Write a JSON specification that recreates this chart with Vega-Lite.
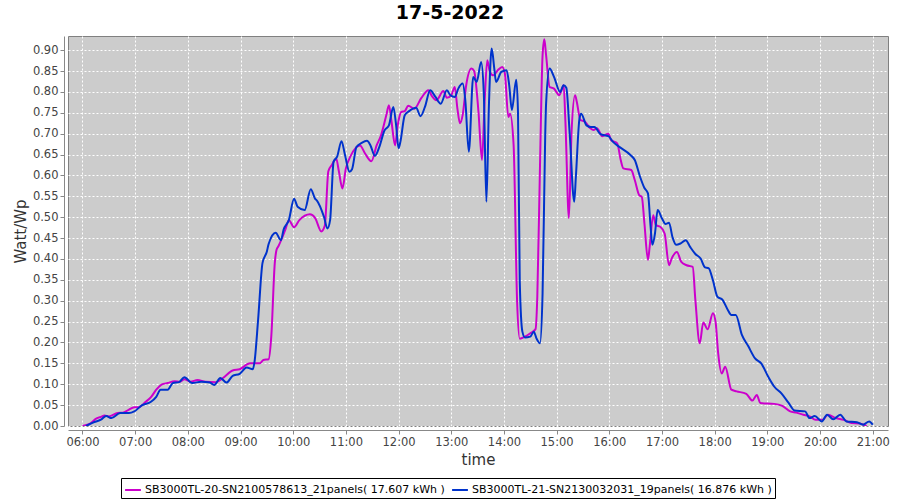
{
  "$schema": "https://vega.github.io/schema/vega-lite/v6.json",
  "autosize": {"type": "none"},
  "width": 820,
  "height": 390,
  "padding": {"left": 68, "top": 36, "right": 12, "bottom": 74},
  "background": "white",
  "title": {"text": "17-5-2022", "fontSize": 19, "fontWeight": "bold", "font": "DejaVu Sans", "color": "black", "anchor": "middle", "frame": "group", "dx": -28, "offset": 13},
  "config": {"view": {"fill": "#cccccc", "stroke": "#808080", "strokeWidth": 1}, "font": "DejaVu Sans"},
  "data": {"values": [
    {"t":"2022-05-17T06:00","s":"A","v":0.000},{"t":"2022-05-17T06:08","s":"A","v":0.005},{"t":"2022-05-17T06:16","s":"A","v":0.018},{"t":"2022-05-17T06:21","s":"A","v":0.022},{"t":"2022-05-17T06:25","s":"A","v":0.025},{"t":"2022-05-17T06:30","s":"A","v":0.023},{"t":"2022-05-17T06:40","s":"A","v":0.031},{"t":"2022-05-17T06:46","s":"A","v":0.032},{"t":"2022-05-17T06:52","s":"A","v":0.038},{"t":"2022-05-17T06:59","s":"A","v":0.045},{"t":"2022-05-17T07:04","s":"A","v":0.045},{"t":"2022-05-17T07:12","s":"A","v":0.058},{"t":"2022-05-17T07:18","s":"A","v":0.069},{"t":"2022-05-17T07:24","s":"A","v":0.087},{"t":"2022-05-17T07:30","s":"A","v":0.099},{"t":"2022-05-17T07:37","s":"A","v":0.103},{"t":"2022-05-17T07:45","s":"A","v":0.107},{"t":"2022-05-17T07:51","s":"A","v":0.106},{"t":"2022-05-17T07:56","s":"A","v":0.112},{"t":"2022-05-17T08:03","s":"A","v":0.106},{"t":"2022-05-17T08:11","s":"A","v":0.110},{"t":"2022-05-17T08:20","s":"A","v":0.106},{"t":"2022-05-17T08:32","s":"A","v":0.105},{"t":"2022-05-17T08:40","s":"A","v":0.115},{"t":"2022-05-17T08:51","s":"A","v":0.133},{"t":"2022-05-17T08:59","s":"A","v":0.136},{"t":"2022-05-17T09:11","s":"A","v":0.150},{"t":"2022-05-17T09:22","s":"A","v":0.150},{"t":"2022-05-17T09:26","s":"A","v":0.158},{"t":"2022-05-17T09:32","s":"A","v":0.160},{"t":"2022-05-17T09:35","s":"A","v":0.214},{"t":"2022-05-17T09:39","s":"A","v":0.390},{"t":"2022-05-17T09:41","s":"A","v":0.422},{"t":"2022-05-17T09:43","s":"A","v":0.430},{"t":"2022-05-17T09:51","s":"A","v":0.470},{"t":"2022-05-17T09:55","s":"A","v":0.493},{"t":"2022-05-17T10:01","s":"A","v":0.476},{"t":"2022-05-17T10:07","s":"A","v":0.493},{"t":"2022-05-17T10:19","s":"A","v":0.507},{"t":"2022-05-17T10:25","s":"A","v":0.498},{"t":"2022-05-17T10:32","s":"A","v":0.466},{"t":"2022-05-17T10:36","s":"A","v":0.480},{"t":"2022-05-17T10:40","s":"A","v":0.610},{"t":"2022-05-17T10:44","s":"A","v":0.625},{"t":"2022-05-17T10:49","s":"A","v":0.640},{"t":"2022-05-17T10:52","s":"A","v":0.610},{"t":"2022-05-17T10:56","s":"A","v":0.569},{"t":"2022-05-17T11:00","s":"A","v":0.617},{"t":"2022-05-17T11:05","s":"A","v":0.645},{"t":"2022-05-17T11:16","s":"A","v":0.672},{"t":"2022-05-17T11:22","s":"A","v":0.652},{"t":"2022-05-17T11:29","s":"A","v":0.634},{"t":"2022-05-17T11:35","s":"A","v":0.672},{"t":"2022-05-17T11:40","s":"A","v":0.696},{"t":"2022-05-17T11:46","s":"A","v":0.744},{"t":"2022-05-17T11:49","s":"A","v":0.768},{"t":"2022-05-17T11:52","s":"A","v":0.728},{"t":"2022-05-17T11:56","s":"A","v":0.672},{"t":"2022-05-17T11:59","s":"A","v":0.720},{"t":"2022-05-17T12:03","s":"A","v":0.752},{"t":"2022-05-17T12:07","s":"A","v":0.754},{"t":"2022-05-17T12:11","s":"A","v":0.767},{"t":"2022-05-17T12:18","s":"A","v":0.760},{"t":"2022-05-17T12:26","s":"A","v":0.786},{"t":"2022-05-17T12:34","s":"A","v":0.804},{"t":"2022-05-17T12:38","s":"A","v":0.790},{"t":"2022-05-17T12:43","s":"A","v":0.780},{"t":"2022-05-17T12:51","s":"A","v":0.802},{"t":"2022-05-17T12:55","s":"A","v":0.786},{"t":"2022-05-17T13:00","s":"A","v":0.792},{"t":"2022-05-17T13:04","s":"A","v":0.812},{"t":"2022-05-17T13:07","s":"A","v":0.760},{"t":"2022-05-17T13:10","s":"A","v":0.725},{"t":"2022-05-17T13:13","s":"A","v":0.745},{"t":"2022-05-17T13:17","s":"A","v":0.816},{"t":"2022-05-17T13:23","s":"A","v":0.856},{"t":"2022-05-17T13:26","s":"A","v":0.850},{"t":"2022-05-17T13:31","s":"A","v":0.752},{"t":"2022-05-17T13:35","s":"A","v":0.637},{"t":"2022-05-17T13:38","s":"A","v":0.776},{"t":"2022-05-17T13:41","s":"A","v":0.876},{"t":"2022-05-17T13:44","s":"A","v":0.848},{"t":"2022-05-17T13:48","s":"A","v":0.840},{"t":"2022-05-17T13:53","s":"A","v":0.852},{"t":"2022-05-17T13:58","s":"A","v":0.860},{"t":"2022-05-17T14:01","s":"A","v":0.845},{"t":"2022-05-17T14:05","s":"A","v":0.740},{"t":"2022-05-17T14:07","s":"A","v":0.748},{"t":"2022-05-17T14:11","s":"A","v":0.673},{"t":"2022-05-17T14:15","s":"A","v":0.297},{"t":"2022-05-17T14:18","s":"A","v":0.209},{"t":"2022-05-17T14:24","s":"A","v":0.214},{"t":"2022-05-17T14:30","s":"A","v":0.222},{"t":"2022-05-17T14:36","s":"A","v":0.232},{"t":"2022-05-17T14:38","s":"A","v":0.310},{"t":"2022-05-17T14:41","s":"A","v":0.617},{"t":"2022-05-17T14:44","s":"A","v":0.888},{"t":"2022-05-17T14:46","s":"A","v":0.926},{"t":"2022-05-17T14:48","s":"A","v":0.888},{"t":"2022-05-17T14:52","s":"A","v":0.812},{"t":"2022-05-17T14:57","s":"A","v":0.808},{"t":"2022-05-17T15:03","s":"A","v":0.792},{"t":"2022-05-17T15:08","s":"A","v":0.816},{"t":"2022-05-17T15:10","s":"A","v":0.729},{"t":"2022-05-17T15:14","s":"A","v":0.498},{"t":"2022-05-17T15:17","s":"A","v":0.704},{"t":"2022-05-17T15:21","s":"A","v":0.792},{"t":"2022-05-17T15:23","s":"A","v":0.776},{"t":"2022-05-17T15:27","s":"A","v":0.733},{"t":"2022-05-17T15:32","s":"A","v":0.729},{"t":"2022-05-17T15:38","s":"A","v":0.714},{"t":"2022-05-17T15:42","s":"A","v":0.709},{"t":"2022-05-17T15:46","s":"A","v":0.713},{"t":"2022-05-17T15:52","s":"A","v":0.694},{"t":"2022-05-17T15:59","s":"A","v":0.700},{"t":"2022-05-17T16:02","s":"A","v":0.685},{"t":"2022-05-17T16:09","s":"A","v":0.677},{"t":"2022-05-17T16:13","s":"A","v":0.637},{"t":"2022-05-17T16:16","s":"A","v":0.617},{"t":"2022-05-17T16:25","s":"A","v":0.613},{"t":"2022-05-17T16:29","s":"A","v":0.589},{"t":"2022-05-17T16:34","s":"A","v":0.553},{"t":"2022-05-17T16:37","s":"A","v":0.549},{"t":"2022-05-17T16:40","s":"A","v":0.485},{"t":"2022-05-17T16:44","s":"A","v":0.398},{"t":"2022-05-17T16:46","s":"A","v":0.430},{"t":"2022-05-17T16:50","s":"A","v":0.505},{"t":"2022-05-17T16:53","s":"A","v":0.481},{"t":"2022-05-17T16:58","s":"A","v":0.477},{"t":"2022-05-17T17:03","s":"A","v":0.461},{"t":"2022-05-17T17:08","s":"A","v":0.385},{"t":"2022-05-17T17:11","s":"A","v":0.401},{"t":"2022-05-17T17:17","s":"A","v":0.417},{"t":"2022-05-17T17:22","s":"A","v":0.393},{"t":"2022-05-17T17:28","s":"A","v":0.385},{"t":"2022-05-17T17:35","s":"A","v":0.381},{"t":"2022-05-17T17:38","s":"A","v":0.302},{"t":"2022-05-17T17:43","s":"A","v":0.198},{"t":"2022-05-17T17:47","s":"A","v":0.248},{"t":"2022-05-17T17:52","s":"A","v":0.232},{"t":"2022-05-17T17:58","s":"A","v":0.270},{"t":"2022-05-17T18:01","s":"A","v":0.250},{"t":"2022-05-17T18:04","s":"A","v":0.174},{"t":"2022-05-17T18:08","s":"A","v":0.126},{"t":"2022-05-17T18:12","s":"A","v":0.142},{"t":"2022-05-17T18:19","s":"A","v":0.087},{"t":"2022-05-17T18:25","s":"A","v":0.083},{"t":"2022-05-17T18:36","s":"A","v":0.077},{"t":"2022-05-17T18:43","s":"A","v":0.061},{"t":"2022-05-17T18:48","s":"A","v":0.074},{"t":"2022-05-17T18:52","s":"A","v":0.055},{"t":"2022-05-17T19:08","s":"A","v":0.053},{"t":"2022-05-17T19:17","s":"A","v":0.048},{"t":"2022-05-17T19:26","s":"A","v":0.035},{"t":"2022-05-17T19:33","s":"A","v":0.032},{"t":"2022-05-17T19:41","s":"A","v":0.027},{"t":"2022-05-17T19:48","s":"A","v":0.023},{"t":"2022-05-17T19:55","s":"A","v":0.015},{"t":"2022-05-17T20:03","s":"A","v":0.015},{"t":"2022-05-17T20:09","s":"A","v":0.027},{"t":"2022-05-17T20:18","s":"A","v":0.019},{"t":"2022-05-17T20:27","s":"A","v":0.015},{"t":"2022-05-17T20:36","s":"A","v":0.007},{"t":"2022-05-17T20:45","s":"A","v":0.006},{"t":"2022-05-17T20:53","s":"A","v":0.000},
    {"t":"2022-05-17T06:04","s":"B","v":0.000},{"t":"2022-05-17T06:12","s":"B","v":0.008},{"t":"2022-05-17T06:21","s":"B","v":0.015},{"t":"2022-05-17T06:27","s":"B","v":0.024},{"t":"2022-05-17T06:33","s":"B","v":0.019},{"t":"2022-05-17T06:43","s":"B","v":0.031},{"t":"2022-05-17T06:53","s":"B","v":0.031},{"t":"2022-05-17T06:59","s":"B","v":0.035},{"t":"2022-05-17T07:08","s":"B","v":0.050},{"t":"2022-05-17T07:18","s":"B","v":0.058},{"t":"2022-05-17T07:24","s":"B","v":0.070},{"t":"2022-05-17T07:29","s":"B","v":0.087},{"t":"2022-05-17T07:37","s":"B","v":0.087},{"t":"2022-05-17T07:43","s":"B","v":0.103},{"t":"2022-05-17T07:50","s":"B","v":0.105},{"t":"2022-05-17T07:56","s":"B","v":0.117},{"t":"2022-05-17T08:05","s":"B","v":0.103},{"t":"2022-05-17T08:15","s":"B","v":0.106},{"t":"2022-05-17T08:25","s":"B","v":0.104},{"t":"2022-05-17T08:30","s":"B","v":0.098},{"t":"2022-05-17T08:37","s":"B","v":0.115},{"t":"2022-05-17T08:44","s":"B","v":0.104},{"t":"2022-05-17T08:51","s":"B","v":0.120},{"t":"2022-05-17T08:59","s":"B","v":0.125},{"t":"2022-05-17T09:07","s":"B","v":0.140},{"t":"2022-05-17T09:14","s":"B","v":0.136},{"t":"2022-05-17T09:16","s":"B","v":0.155},{"t":"2022-05-17T09:20","s":"B","v":0.254},{"t":"2022-05-17T09:25","s":"B","v":0.390},{"t":"2022-05-17T09:30","s":"B","v":0.418},{"t":"2022-05-17T09:32","s":"B","v":0.436},{"t":"2022-05-17T09:40","s":"B","v":0.463},{"t":"2022-05-17T09:46","s":"B","v":0.445},{"t":"2022-05-17T09:49","s":"B","v":0.470},{"t":"2022-05-17T09:55","s":"B","v":0.493},{"t":"2022-05-17T10:01","s":"B","v":0.544},{"t":"2022-05-17T10:05","s":"B","v":0.525},{"t":"2022-05-17T10:13","s":"B","v":0.517},{"t":"2022-05-17T10:20","s":"B","v":0.567},{"t":"2022-05-17T10:25","s":"B","v":0.544},{"t":"2022-05-17T10:27","s":"B","v":0.540},{"t":"2022-05-17T10:35","s":"B","v":0.501},{"t":"2022-05-17T10:39","s":"B","v":0.473},{"t":"2022-05-17T10:42","s":"B","v":0.493},{"t":"2022-05-17T10:46","s":"B","v":0.633},{"t":"2022-05-17T10:50","s":"B","v":0.645},{"t":"2022-05-17T10:55","s":"B","v":0.682},{"t":"2022-05-17T10:59","s":"B","v":0.649},{"t":"2022-05-17T11:04","s":"B","v":0.609},{"t":"2022-05-17T11:07","s":"B","v":0.615},{"t":"2022-05-17T11:12","s":"B","v":0.668},{"t":"2022-05-17T11:18","s":"B","v":0.678},{"t":"2022-05-17T11:24","s":"B","v":0.683},{"t":"2022-05-17T11:28","s":"B","v":0.672},{"t":"2022-05-17T11:33","s":"B","v":0.647},{"t":"2022-05-17T11:38","s":"B","v":0.668},{"t":"2022-05-17T11:44","s":"B","v":0.708},{"t":"2022-05-17T11:49","s":"B","v":0.720},{"t":"2022-05-17T11:54","s":"B","v":0.764},{"t":"2022-05-17T11:57","s":"B","v":0.724},{"t":"2022-05-17T12:00","s":"B","v":0.665},{"t":"2022-05-17T12:02","s":"B","v":0.680},{"t":"2022-05-17T12:07","s":"B","v":0.744},{"t":"2022-05-17T12:12","s":"B","v":0.754},{"t":"2022-05-17T12:20","s":"B","v":0.762},{"t":"2022-05-17T12:25","s":"B","v":0.742},{"t":"2022-05-17T12:30","s":"B","v":0.764},{"t":"2022-05-17T12:36","s":"B","v":0.804},{"t":"2022-05-17T12:42","s":"B","v":0.788},{"t":"2022-05-17T12:48","s":"B","v":0.772},{"t":"2022-05-17T12:55","s":"B","v":0.804},{"t":"2022-05-17T12:59","s":"B","v":0.792},{"t":"2022-05-17T13:04","s":"B","v":0.788},{"t":"2022-05-17T13:08","s":"B","v":0.808},{"t":"2022-05-17T13:13","s":"B","v":0.820},{"t":"2022-05-17T13:16","s":"B","v":0.780},{"t":"2022-05-17T13:20","s":"B","v":0.657},{"t":"2022-05-17T13:25","s":"B","v":0.836},{"t":"2022-05-17T13:29","s":"B","v":0.824},{"t":"2022-05-17T13:34","s":"B","v":0.872},{"t":"2022-05-17T13:37","s":"B","v":0.800},{"t":"2022-05-17T13:40","s":"B","v":0.537},{"t":"2022-05-17T13:43","s":"B","v":0.776},{"t":"2022-05-17T13:46","s":"B","v":0.904},{"t":"2022-05-17T13:49","s":"B","v":0.856},{"t":"2022-05-17T13:51","s":"B","v":0.824},{"t":"2022-05-17T13:57","s":"B","v":0.848},{"t":"2022-05-17T14:03","s":"B","v":0.852},{"t":"2022-05-17T14:06","s":"B","v":0.816},{"t":"2022-05-17T14:09","s":"B","v":0.757},{"t":"2022-05-17T14:14","s":"B","v":0.829},{"t":"2022-05-17T14:16","s":"B","v":0.752},{"t":"2022-05-17T14:18","s":"B","v":0.346},{"t":"2022-05-17T14:21","s":"B","v":0.226},{"t":"2022-05-17T14:24","s":"B","v":0.212},{"t":"2022-05-17T14:30","s":"B","v":0.214},{"t":"2022-05-17T14:34","s":"B","v":0.226},{"t":"2022-05-17T14:37","s":"B","v":0.210},{"t":"2022-05-17T14:41","s":"B","v":0.198},{"t":"2022-05-17T14:44","s":"B","v":0.318},{"t":"2022-05-17T14:47","s":"B","v":0.696},{"t":"2022-05-17T14:48","s":"B","v":0.772},{"t":"2022-05-17T14:52","s":"B","v":0.856},{"t":"2022-05-17T14:57","s":"B","v":0.836},{"t":"2022-05-17T15:04","s":"B","v":0.800},{"t":"2022-05-17T15:08","s":"B","v":0.816},{"t":"2022-05-17T15:11","s":"B","v":0.810},{"t":"2022-05-17T15:15","s":"B","v":0.696},{"t":"2022-05-17T15:20","s":"B","v":0.537},{"t":"2022-05-17T15:22","s":"B","v":0.600},{"t":"2022-05-17T15:26","s":"B","v":0.736},{"t":"2022-05-17T15:28","s":"B","v":0.748},{"t":"2022-05-17T15:34","s":"B","v":0.720},{"t":"2022-05-17T15:39","s":"B","v":0.716},{"t":"2022-05-17T15:43","s":"B","v":0.716},{"t":"2022-05-17T15:50","s":"B","v":0.699},{"t":"2022-05-17T15:59","s":"B","v":0.694},{"t":"2022-05-17T16:04","s":"B","v":0.681},{"t":"2022-05-17T16:11","s":"B","v":0.669},{"t":"2022-05-17T16:24","s":"B","v":0.649},{"t":"2022-05-17T16:29","s":"B","v":0.637},{"t":"2022-05-17T16:35","s":"B","v":0.597},{"t":"2022-05-17T16:40","s":"B","v":0.570},{"t":"2022-05-17T16:44","s":"B","v":0.557},{"t":"2022-05-17T16:47","s":"B","v":0.478},{"t":"2022-05-17T16:49","s":"B","v":0.434},{"t":"2022-05-17T16:52","s":"B","v":0.461},{"t":"2022-05-17T16:55","s":"B","v":0.517},{"t":"2022-05-17T17:00","s":"B","v":0.497},{"t":"2022-05-17T17:04","s":"B","v":0.484},{"t":"2022-05-17T17:08","s":"B","v":0.487},{"t":"2022-05-17T17:12","s":"B","v":0.452},{"t":"2022-05-17T17:16","s":"B","v":0.434},{"t":"2022-05-17T17:21","s":"B","v":0.437},{"t":"2022-05-17T17:27","s":"B","v":0.445},{"t":"2022-05-17T17:32","s":"B","v":0.429},{"t":"2022-05-17T17:38","s":"B","v":0.412},{"t":"2022-05-17T17:44","s":"B","v":0.401},{"t":"2022-05-17T17:49","s":"B","v":0.380},{"t":"2022-05-17T17:53","s":"B","v":0.378},{"t":"2022-05-17T17:58","s":"B","v":0.349},{"t":"2022-05-17T18:03","s":"B","v":0.310},{"t":"2022-05-17T18:09","s":"B","v":0.302},{"t":"2022-05-17T18:15","s":"B","v":0.278},{"t":"2022-05-17T18:19","s":"B","v":0.266},{"t":"2022-05-17T18:24","s":"B","v":0.266},{"t":"2022-05-17T18:31","s":"B","v":0.218},{"t":"2022-05-17T18:38","s":"B","v":0.192},{"t":"2022-05-17T18:46","s":"B","v":0.162},{"t":"2022-05-17T18:53","s":"B","v":0.150},{"t":"2022-05-17T19:01","s":"B","v":0.118},{"t":"2022-05-17T19:08","s":"B","v":0.094},{"t":"2022-05-17T19:16","s":"B","v":0.078},{"t":"2022-05-17T19:24","s":"B","v":0.056},{"t":"2022-05-17T19:31","s":"B","v":0.037},{"t":"2022-05-17T19:43","s":"B","v":0.035},{"t":"2022-05-17T19:48","s":"B","v":0.019},{"t":"2022-05-17T19:54","s":"B","v":0.024},{"t":"2022-05-17T20:02","s":"B","v":0.011},{"t":"2022-05-17T20:08","s":"B","v":0.027},{"t":"2022-05-17T20:15","s":"B","v":0.016},{"t":"2022-05-17T20:23","s":"B","v":0.027},{"t":"2022-05-17T20:30","s":"B","v":0.011},{"t":"2022-05-17T20:42","s":"B","v":0.009},{"t":"2022-05-17T20:49","s":"B","v":0.003},{"t":"2022-05-17T20:56","s":"B","v":0.011},{"t":"2022-05-17T21:00","s":"B","v":0.003}
  ]},
  "mark": {"type": "line", "strokeWidth": 2, "interpolate": "monotone", "clip": true},
  "encoding": {
    "x": {
      "field": "t", "type": "temporal",
      "scale": {"domain": {"expr": "[datetime(2022, 4, 17, 5, 43, 30), datetime(2022, 4, 17, 21, 17, 24)]"}},
      "axis": {"title": "time", "format": "%H:%M", "tickCount": "hour", "grid": true, "gridColor": "white", "gridDash": [2, 2], "gridWidth": 1, "domainColor": "#888888", "tickColor": "#888888", "tickSize": 4, "offset": 4, "labelFont": "DejaVu Sans", "labelFontSize": 11.5, "labelColor": "#444444", "labelPadding": 2, "labelFlush": false, "labelOverlap": false, "titleFont": "DejaVu Sans", "titleFontSize": 15, "titleFontWeight": "normal", "titleColor": "#333333", "titlePadding": 5}
    },
    "y": {
      "field": "v", "type": "quantitative",
      "scale": {"domain": [0, 0.934], "nice": false, "zero": false},
      "axis": {"title": "Watt/Wp", "values": [0, 0.05, 0.1, 0.15, 0.2, 0.25, 0.3, 0.35, 0.4, 0.45, 0.5, 0.55, 0.6, 0.65, 0.7, 0.75, 0.8, 0.85, 0.9], "format": ".2f", "grid": true, "gridColor": "white", "gridDash": [2, 2], "gridWidth": 1, "domainColor": "#888888", "tickColor": "#888888", "tickSize": 4, "offset": 4, "labelFont": "DejaVu Sans", "labelFontSize": 11.5, "labelColor": "#444444", "labelPadding": 2, "labelFlush": false, "labelOverlap": false, "titleFont": "DejaVu Sans", "titleFontSize": 15, "titleFontWeight": "normal", "titleColor": "#333333", "titlePadding": 4}
    },
    "color": {
      "field": "s", "type": "nominal",
      "scale": {"domain": ["A", "B"], "range": ["#cc00cc", "#0033cc"]},
      "legend": {"orient": "none", "legendX": 53, "legendY": 442, "direction": "horizontal", "title": null, "strokeColor": "black", "fillColor": "white", "padding": 3, "symbolType": "stroke", "symbolStrokeWidth": 2, "symbolSize": 250, "labelFont": "DejaVu Sans", "labelFontSize": 11, "labelColor": "black", "labelLimit": 500, "columnPadding": 3, "labelOffset": 3,
        "labelExpr": "datum.label == 'A' ? 'SB3000TL-20-SN2100578613_21panels( 17.607 kWh )' : 'SB3000TL-21-SN2130032031_19panels( 16.876 kWh )'"}
    }
  }
}
